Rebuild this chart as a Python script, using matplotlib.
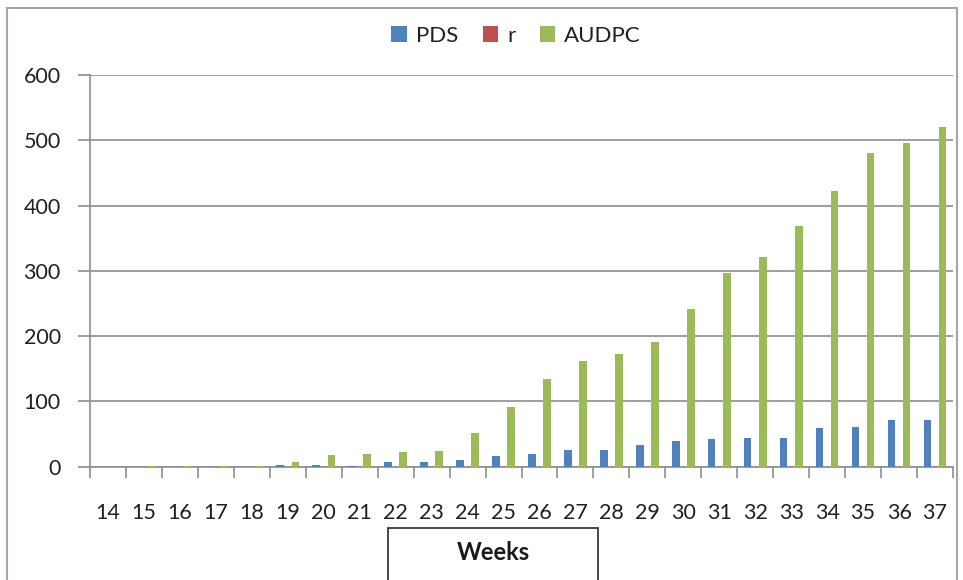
import matplotlib
matplotlib.use("Agg")
import matplotlib.pyplot as plt
from matplotlib.patches import Rectangle
import numpy as np

plt.rcParams['font.family'] = ['Lato', 'DejaVu Sans']

weeks = [str(w) for w in range(14, 38)]
pds = [0, 0, 0, 0, 0, 2, 2, 1, 6.5, 6.5, 10.5, 16.5, 20, 25.5, 25.5, 34,
       39.5, 42, 44, 44, 60, 61.5, 72, 72]
r_rate = [0, 0.1, 0.1, 0.1, 0.1, 0.2, 0.2, 0.1, 0.2, 0.1, 0.2, 0.3, 0.2, 0.2,
          0.1, 0.2, 0.2, 0.1, 0.1, 0.1, 0.2, 0.1, 0.1, 0.1]
audpc = [0, 1.5, 1.5, 1.5, 1.5, 6.5, 18, 20, 22, 24.5, 52, 91, 135, 161.5,
         172, 191, 241.5, 297, 321, 369, 423, 481, 496, 520]

series = [("PDS", pds, "#4F81BD"), ("r", r_rate, "#C0504D"),
          ("AUDPC", audpc, "#9BBB59")]

fig = plt.figure(figsize=(9.63, 5.80), dpi=100)
ax = fig.add_axes([90 / 963, 1 - 466.7 / 580, 863 / 963, (466.7 - 75) / 580])

x = np.arange(len(weeks))
bw = 0.21
for i, (name, vals, col) in enumerate(series):
    ax.bar(x + (i - 1) * bw, vals, width=bw, color=col, label=name, zorder=3)

grid_col = "#8E8E8E"
text_col = "#202020"
ax.set_ylim(0, 600)
ax.set_xlim(-0.5, len(weeks) - 0.5)
ax.set_yticks(range(0, 601, 100))
ax.yaxis.grid(True, color=grid_col, linewidth=1.2, zorder=0)
ax.tick_params(axis='y', direction='out', length=9, width=1.2,
               color=grid_col, labelsize=15.5, pad=12, labelcolor=text_col)

# category boundaries carry the tick marks, centres carry the labels
ax.set_xticks(np.arange(-0.5, len(weeks), 1.0))
ax.set_xticklabels([])
ax.set_xticks(x, minor=True)
ax.set_xticklabels(weeks, minor=True)
ax.tick_params(axis='x', which='major', direction='out', length=8,
               width=1.2, color=grid_col)
ax.tick_params(axis='x', which='minor', length=0, labelsize=15.5,
               pad=26, labelcolor=text_col)

for side in ("top", "right"):
    ax.spines[side].set_visible(False)
for side in ("left", "bottom"):
    ax.spines[side].set_color(grid_col)
    ax.spines[side].set_linewidth(1.2)

fig.legend(loc='center', bbox_to_anchor=(0.536, 0.938), ncol=3,
           frameon=False, fontsize=16, handlelength=0.7,
           handleheight=0.7, handletextpad=0.4, columnspacing=1.1,
           labelcolor=text_col)

# outer chart frame
fig.add_artist(Rectangle((7 / 963, -0.05), 950 / 963, 1.05 - 8 / 580,
                         transform=fig.transFigure, fill=False,
                         edgecolor="#A6A6A6", linewidth=1.5))

# axis title box
fig.add_artist(Rectangle((388 / 963, -0.05), 210 / 963, 0.05 + 1 - 528 / 580,
                         transform=fig.transFigure, facecolor="white",
                         edgecolor="#3A3A3A", linewidth=1.3))
fig.text(493 / 963, 1 - 553 / 580, "Weeks", ha='center', va='center',
         fontsize=17, fontweight='bold', color="#1A1A1A")

fig.savefig("out.png", dpi=100)
